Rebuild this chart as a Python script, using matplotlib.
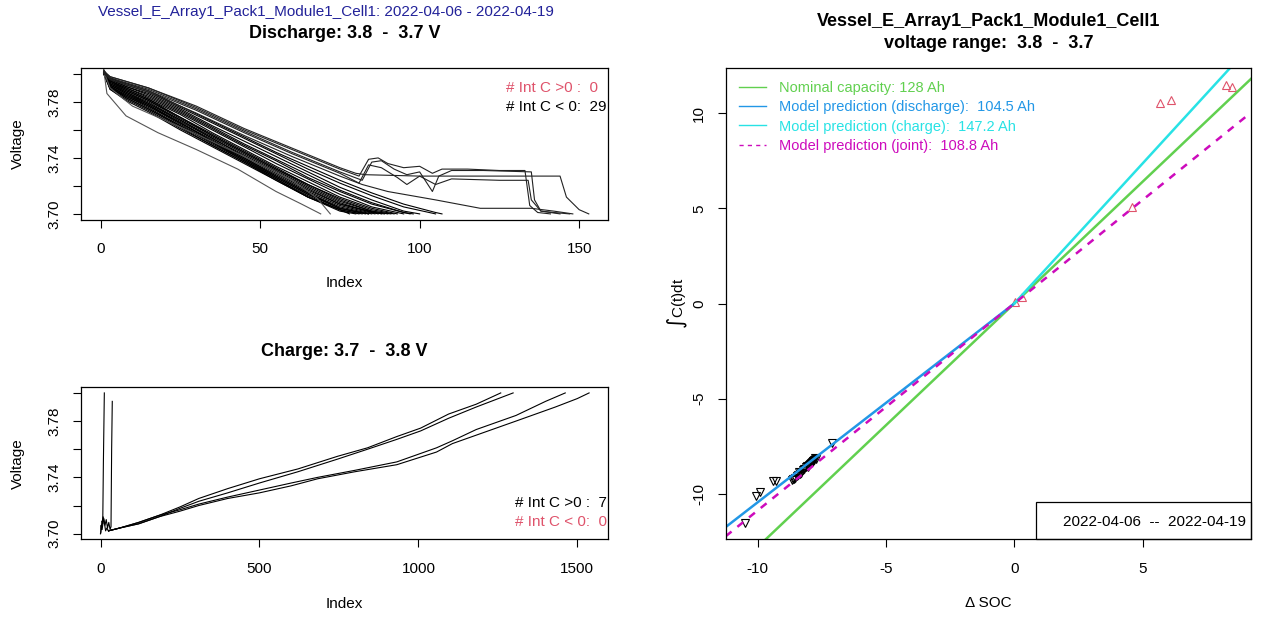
import matplotlib.pyplot as plt
from matplotlib.patches import Rectangle

plt.rcParams['font.family'] = ['Liberation Sans', 'DejaVu Sans']
plt.rcParams['font.size'] = 11
plt.rcParams['axes.unicode_minus'] = False

cell_name = "Vessel_E_Array1_Pack1_Module1_Cell1"
date_from = "2022-04-06"
date_to = "2022-04-19"

# discharge curves, main bundle: voltage at the grid indices, then 3.700 at the end index
dis_grid = [1, 3, 8, 15, 25, 35, 45, 55, 65, 75, 85, 95, 105]
dis_main_end = [107, 105, 100, 98, 97, 95, 93, 92, 90, 89, 88, 87, 86, 85, 84, 83, 82, 81, 80, 78, 91, 84]
dis_main_v = [
    [3.802, 3.797, 3.793, 3.788, 3.777, 3.766, 3.755, 3.744, 3.734, 3.724, 3.715, 3.707, 3.701],
    [3.801, 3.797, 3.792, 3.787, 3.776, 3.765, 3.754, 3.743, 3.732, 3.722, 3.713, 3.705],
    [3.803, 3.796, 3.791, 3.786, 3.775, 3.763, 3.752, 3.741, 3.730, 3.719, 3.710, 3.702],
    [3.800, 3.796, 3.791, 3.785, 3.774, 3.762, 3.750, 3.739, 3.728, 3.717, 3.708, 3.701],
    [3.802, 3.795, 3.790, 3.784, 3.773, 3.761, 3.749, 3.738, 3.726, 3.716, 3.707, 3.701],
    [3.801, 3.795, 3.790, 3.783, 3.772, 3.760, 3.748, 3.736, 3.725, 3.714, 3.705],
    [3.800, 3.794, 3.789, 3.782, 3.771, 3.758, 3.746, 3.734, 3.723, 3.712, 3.704],
    [3.802, 3.794, 3.788, 3.781, 3.769, 3.757, 3.745, 3.733, 3.721, 3.711, 3.703],
    [3.801, 3.793, 3.788, 3.781, 3.768, 3.756, 3.744, 3.732, 3.720, 3.709, 3.702],
    [3.800, 3.793, 3.787, 3.780, 3.767, 3.755, 3.743, 3.731, 3.719, 3.708, 3.701],
    [3.802, 3.792, 3.787, 3.779, 3.767, 3.754, 3.742, 3.730, 3.718, 3.707],
    [3.801, 3.792, 3.786, 3.779, 3.766, 3.754, 3.741, 3.729, 3.717, 3.707],
    [3.800, 3.792, 3.786, 3.778, 3.765, 3.753, 3.740, 3.728, 3.716, 3.706],
    [3.802, 3.791, 3.785, 3.777, 3.765, 3.752, 3.740, 3.727, 3.715, 3.705],
    [3.801, 3.791, 3.784, 3.777, 3.764, 3.751, 3.739, 3.726, 3.714, 3.704],
    [3.800, 3.790, 3.784, 3.776, 3.763, 3.751, 3.738, 3.726, 3.714, 3.704],
    [3.802, 3.790, 3.783, 3.775, 3.763, 3.750, 3.738, 3.725, 3.713, 3.703],
    [3.801, 3.790, 3.783, 3.775, 3.762, 3.749, 3.737, 3.725, 3.712, 3.703],
    [3.800, 3.789, 3.782, 3.774, 3.761, 3.749, 3.737, 3.724, 3.712, 3.702],
    [3.801, 3.789, 3.781, 3.773, 3.760, 3.748, 3.736, 3.724, 3.712, 3.703],
    [3.801, 3.795, 3.789, 3.782, 3.769, 3.756, 3.744, 3.732, 3.721, 3.710, 3.702],
    [3.802, 3.791, 3.785, 3.778, 3.765, 3.752, 3.739, 3.727, 3.715, 3.704],
]

# discharge curves that fall away early (grey)
dis_low_idx = [[1, 2, 8, 18, 30, 43, 55, 63, 69],
               [1, 3, 10, 20, 30, 45, 60, 68, 72]]
dis_low_v = [[3.803, 3.786, 3.770, 3.758, 3.746, 3.732, 3.716, 3.707, 3.700],
             [3.802, 3.790, 3.777, 3.767, 3.757, 3.741, 3.724, 3.711, 3.700]]

# discharge curves with a plateau near 3.73 V
dis_plat_idx = [
    [1, 3, 15, 30, 45, 60, 75, 81, 84, 87, 90, 95, 100, 104, 107, 115, 125, 133, 134.5, 137, 141],
    [1, 3, 15, 30, 45, 60, 75, 82, 85, 88, 92, 96, 100, 104, 106, 110, 120, 135, 136, 138, 144],
    [1, 3, 15, 30, 45, 60, 75, 80, 83, 100, 120, 144, 146, 150, 153],
    [1, 3, 15, 30, 45, 60, 75, 81, 84, 88, 93, 96, 100, 105, 110, 125, 134, 135, 138, 142, 147],
    [1, 3, 15, 30, 45, 60, 75, 82, 90, 105, 119, 135, 142, 148],
]
dis_plat_v = [
    [3.802, 3.798, 3.790, 3.776, 3.760, 3.746, 3.732, 3.727, 3.739, 3.740, 3.736, 3.733, 3.734,
     3.729, 3.732, 3.732, 3.731, 3.731, 3.706, 3.701, 3.700],
    [3.801, 3.797, 3.789, 3.775, 3.759, 3.744, 3.730, 3.724, 3.737, 3.738, 3.732, 3.728, 3.730,
     3.716, 3.727, 3.731, 3.731, 3.730, 3.710, 3.702, 3.700],
    [3.802, 3.798, 3.790, 3.777, 3.761, 3.747, 3.733, 3.729, 3.728, 3.727, 3.727, 3.727, 3.712,
     3.703, 3.700],
    [3.800, 3.797, 3.788, 3.774, 3.758, 3.743, 3.729, 3.722, 3.735, 3.733, 3.726, 3.721, 3.727,
     3.721, 3.725, 3.724, 3.724, 3.710, 3.702, 3.701, 3.700],
    [3.801, 3.796, 3.787, 3.772, 3.756, 3.741, 3.727, 3.721, 3.716, 3.710, 3.704, 3.704, 3.702, 3.700],
]

# charge curves
chg_idx = [
    [25, 60, 120, 184, 250, 309, 400, 500, 621, 746, 840, 932, 1007, 1095, 1182, 1259],
    [25, 60, 120, 184, 250, 309, 400, 500, 621, 746, 840, 932, 1007, 1095, 1182, 1240, 1298],
    [25, 60, 120, 184, 250, 309, 400, 500, 600, 683, 800, 932, 1057, 1107, 1182, 1307, 1400, 1462],
    [25, 60, 120, 184, 250, 309, 400, 500, 600, 683, 800, 932, 1057, 1107, 1182, 1307, 1431, 1500, 1537],
    [0, 1, 2, 3, 5, 7, 9, 12],
    [5, 10, 14, 18, 22, 26, 30, 33, 35, 37],
    [0, 3, 8, 12, 16, 20, 25],
]
chg_v = [
    [3.702, 3.704, 3.708, 3.713, 3.719, 3.725, 3.732, 3.739, 3.746, 3.755, 3.761, 3.769, 3.775,
     3.785, 3.792, 3.800],
    [3.702, 3.704, 3.707, 3.712, 3.718, 3.723, 3.729, 3.736, 3.744, 3.753, 3.760, 3.767, 3.773,
     3.782, 3.790, 3.795, 3.800],
    [3.702, 3.704, 3.708, 3.713, 3.717, 3.721, 3.726, 3.731, 3.736, 3.740, 3.745, 3.751, 3.761,
     3.766, 3.774, 3.784, 3.794, 3.800],
    [3.702, 3.704, 3.707, 3.712, 3.716, 3.720, 3.725, 3.729, 3.734, 3.739, 3.744, 3.749, 3.758,
     3.764, 3.770, 3.780, 3.790, 3.796, 3.800],
    [3.700, 3.701, 3.706, 3.703, 3.709, 3.707, 3.750, 3.800],
    [3.703, 3.711, 3.706, 3.710, 3.704, 3.708, 3.703, 3.705, 3.760, 3.794],
    [3.700, 3.705, 3.712, 3.708, 3.702, 3.704, 3.702],
]

# right panel: delta SOC vs integrated current
dsoc_dis = [-10.5, -10.08, -9.91, -9.4, -9.3, -8.68, -8.62, -8.59, -8.55, -8.48, -8.42, -8.35,
            -8.30, -8.22, -8.18, -8.12, -8.08, -8.02, -7.98, -7.93, -7.90, -7.84, -7.80, -7.74,
            -7.78, -7.86, -8.05, -8.40, -7.1]
intc_dis = [-11.52, -10.1, -9.91, -9.33, -9.33, -9.28, -9.25, -9.21, -9.15, -9.07, -9.00, -8.96,
            -8.90, -8.75, -8.70, -8.58, -8.55, -8.49, -8.45, -8.40, -8.35, -8.27, -8.22, -8.16,
            -8.10, -8.30, -8.60, -8.85, -7.32]
dsoc_chg = [0.02, 0.29, 4.6, 5.68, 6.1, 8.25, 8.5]
intc_chg = [0.06, 0.33, 5.09, 10.56, 10.7, 11.49, 11.4]

cap_nominal = 128
cap_discharge = 104.5
cap_charge = 147.2
cap_joint = 108.8

RED = '#DF536B'
GREEN = '#61D04F'
BLUE = '#2297E6'
CYAN = '#28E2E5'
MAGENTA = '#CD0BBC'

W, H = 1261, 618
fig = plt.figure(figsize=(W / 100, H / 100), dpi=100)
ax1 = fig.add_axes([81 / W, 1 - 219.5 / H, 527.3 / W, 151.2 / H])
ax2 = fig.add_axes([81 / W, 1 - 539.3 / H, 527.3 / W, 152 / H])
ax3 = fig.add_axes([725.7 / W, 1 - 539.3 / H, 525.3 / W, 471 / H])


def style(ax):
    for s in ax.spines.values():
        s.set_linewidth(0.9)
    ax.tick_params(length=6, width=0.8, direction='out')
    ax.tick_params(axis='x', pad=10)
    ax.tick_params(axis='y', pad=8, labelrotation=90)
    for lab in ax.get_yticklabels():
        lab.set_va('center')


# discharge panel
for end, v in zip(dis_main_end, dis_main_v):
    ax1.plot(dis_grid[:len(v)] + [end], v + [3.700], color='black', lw=0.8)
for x, v in zip(dis_low_idx, dis_low_v):
    ax1.plot(x, v, color='#555555', lw=0.8)
for x, v in zip(dis_plat_idx, dis_plat_v):
    ax1.plot(x, v, color='#222222', lw=0.8)
ax1.set_xlim(-6.12, 159.12)
ax1.set_ylim(3.696, 3.804)
ax1.set_xticks([0, 50, 100, 150])
ax1.set_yticks([3.70, 3.72, 3.74, 3.76, 3.78, 3.80])
ax1.set_yticklabels(['3.70', '', '3.74', '', '3.78', ''])
ax1.set_xlabel('Index')
ax1.set_ylabel('Voltage')
style(ax1)
ax1.text(0.806, 0.870, '# Int C >0 :  0', color=RED, transform=ax1.transAxes, va='center')
ax1.text(0.806, 0.746, '# Int C < 0:  29', color='black', transform=ax1.transAxes, va='center')

# charge panel
for x, v in zip(chg_idx, chg_v):
    ax2.plot(x, v, color='black', lw=0.8)
ax2.set_xlim(-61.4, 1597.4)
ax2.set_ylim(3.696, 3.804)
ax2.set_xticks([0, 500, 1000, 1500])
ax2.set_yticks([3.70, 3.72, 3.74, 3.76, 3.78, 3.80])
ax2.set_yticklabels(['3.70', '', '3.74', '', '3.78', ''])
ax2.set_xlabel('Index')
ax2.set_ylabel('Voltage')
style(ax2)
ax2.text(0.8225, 0.237, '# Int C >0 :  7', color='black', transform=ax2.transAxes, va='center')
ax2.text(0.8225, 0.116, '# Int C < 0:  0', color=RED, transform=ax2.transAxes, va='center')

for ax in (ax1, ax2):
    ax.xaxis.set_label_coords(0.5, -64 / 151.5)
    ax.xaxis.label.set_va('center')
    ax.yaxis.set_label_coords(-63 / 527.3, 0.5)
    ax.yaxis.label.set_va('center')

# right panel
ax3.plot(dsoc_dis, intc_dis, ls='', marker='v', ms=6, mfc='none', mec='black', mew=0.8)
ax3.plot(dsoc_chg, intc_chg, ls='', marker='^', ms=6, mfc='none', mec=RED, mew=0.8)
xl = (-11.25, 9.23)
ax3.plot(xl, [c * cap_nominal / 100 for c in xl], color=GREEN, lw=1.8,
         label=f'Nominal capacity: {cap_nominal} Ah')
ax3.plot([xl[0], 0], [xl[0] * cap_discharge / 100, 0], color=BLUE, lw=1.8,
         label=f'Model prediction (discharge):  {cap_discharge} Ah')
ax3.plot([0, xl[1]], [0, xl[1] * cap_charge / 100], color=CYAN, lw=1.8,
         label=f'Model prediction (charge):  {cap_charge} Ah')
ax3.plot(xl, [c * cap_joint / 100 for c in xl], color=MAGENTA, lw=1.8, dashes=(3, 3),
         label=f'Model prediction (joint):  {cap_joint} Ah')
ax3.set_xlim(*xl)
ax3.set_ylim(-12.4, 12.37)
ax3.set_xticks([-10, -5, 0, 5])
ax3.set_yticks([-10, -5, 0, 5, 10])
ax3.set_xlabel('Δ SOC')
ax3.set_ylabel(r'$\int$C(t)dt', fontsize=11)
style(ax3)
ax3.xaxis.set_label_coords(0.5, -64 / 471)
ax3.xaxis.label.set_va('center')
ax3.yaxis.set_label_coords(-48 / 525.3, 0.5)
ax3.yaxis.label.set_va('center')

leg = ax3.legend(loc='upper left', bbox_to_anchor=(0.026, 0.973), frameon=False,
                 handlelength=1.8, handletextpad=0.9, labelspacing=0.36, borderpad=0,
                 borderaxespad=0, fontsize=10.5, labelcolor='linecolor')
for h in leg.get_lines():
    h.set_linewidth(1.0)

ax3.add_patch(Rectangle((0.5907, 0), 0.4093, 0.0786, transform=ax3.transAxes,
                        fill=False, lw=0.9, ec='black', clip_on=False))
ax3.text(0.6427, 0.037, f'{date_from}  --  {date_to}', transform=ax3.transAxes, va='center')

# titles
fig.text(326 / W, 1 - 12.3 / H, f'{cell_name}: {date_from} - {date_to}', color='#222299',
         ha='center', va='center')
fig.text(344.5 / W, 1 - 33.3 / H, 'Discharge: 3.8  -  3.7 V', fontweight='bold', fontsize=13,
         ha='center', va='center')
fig.text(344.5 / W, 1 - 351.7 / H, 'Charge: 3.7  -  3.8 V', fontweight='bold', fontsize=13,
         ha='center', va='center')
fig.text(988.4 / W, 1 - 22 / H, cell_name, fontweight='bold', fontsize=13, ha='center', va='center')
fig.text(988.4 / W, 1 - 44 / H, 'voltage range:  3.8  -  3.7', fontweight='bold', fontsize=13,
         ha='center', va='center')

fig.savefig('out.png', dpi=100)
